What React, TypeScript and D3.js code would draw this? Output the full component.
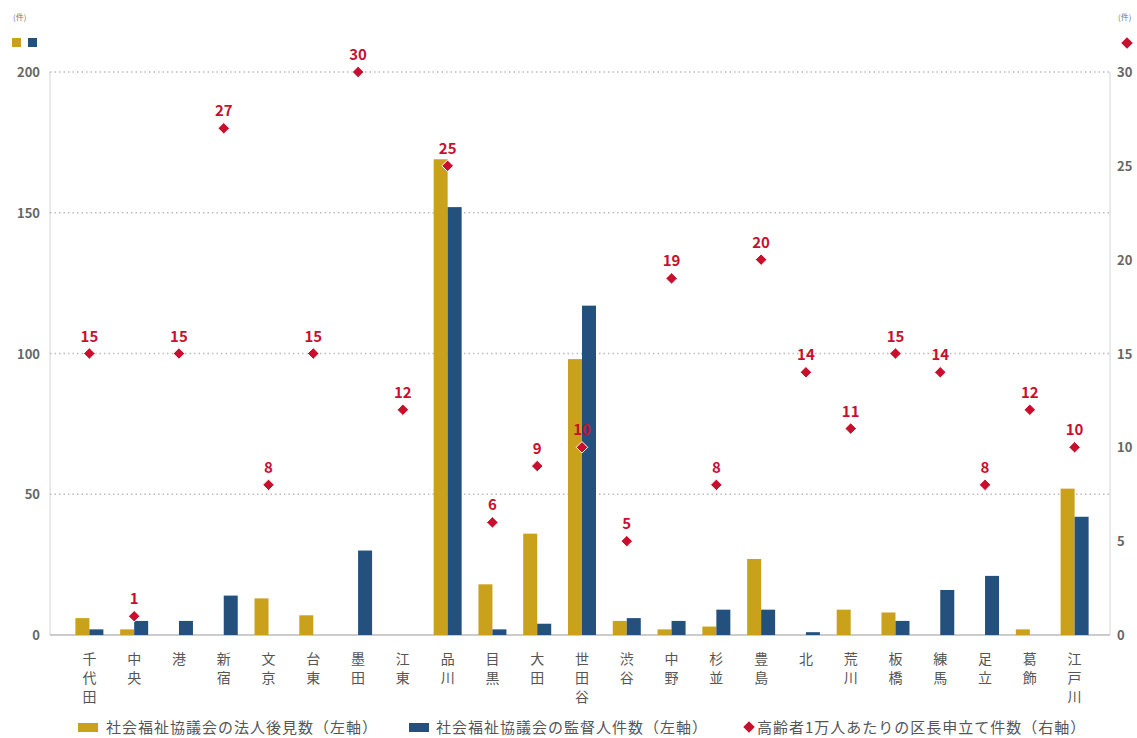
import React, { useEffect, useRef } from 'react';
import * as d3 from 'd3';

const wards = ['千代田', '中央', '港', '新宿', '文京', '台東', '墨田', '江東', '品川', '目黒', '大田', '世田谷', '渋谷', '中野', '杉並', '豊島', '北', '荒川', '板橋', '練馬', '足立', '葛飾', '江戸川'];
const guardianCounts = [6, 2, 0, 0, 13, 7, 0, 0, 169, 18, 36, 98, 5, 2, 3, 27, 0, 9, 8, 0, 0, 2, 52];
const supervisorCounts = [2, 5, 5, 14, 0, 0, 30, 0, 152, 2, 4, 117, 6, 5, 9, 9, 1, 0, 5, 16, 21, 0, 42];
const petitionsPer10k = [15, 1, 15, 27, 8, 15, 30, 12, 25, 6, 9, 10, 5, 19, 8, 20, 14, 11, 15, 14, 8, 12, 10];
const leftTicks = [0, 50, 100, 150, 200];
const rightTicks = [0, 5, 10, 15, 20, 25, 30];
const legendLabels = ['社会福祉協議会の法人後見数（左軸）', '社会福祉協議会の監督人件数（左軸）', '高齢者1万人あたりの区長申立て件数（右軸）'];

const GOLD = '#c9a11b';
const BLUE = '#24507e';
const RED = '#c8102e';
const FONT = '"Noto Sans CJK JP", "Noto Sans", sans-serif';

const diamond = d3.symbol().type(d3.symbolDiamond2).size(85);

const App = () => {
    const ref = useRef<SVGSVGElement>(null);

    useEffect(() => {
        const svg = d3.select(ref.current);
        svg.selectAll('*').remove();

        const x = d3.scaleBand().domain(wards).range([67, 1097]);
        const yL = d3.scaleLinear().domain([0, 200]).range([635, 72]);
        const yR = d3.scaleLinear().domain([0, 30]).range([635, 72]);
        const bw = 14;
        const cx = (w: string) => x(w)! + x.bandwidth() / 2;

        // side axis lines
        [50, 1110].forEach(ax => {
            svg.append('line')
                .attr('x1', ax).attr('x2', ax)
                .attr('y1', 72).attr('y2', 635)
                .attr('stroke', '#d4d4d4').attr('stroke-width', 1);
        });

        // grid
        svg.selectAll('.grid')
            .data(leftTicks.filter(d => d > 0))
            .enter()
            .append('line')
            .attr('x1', 50)
            .attr('x2', 1110)
            .attr('y1', d => yL(d))
            .attr('y2', d => yL(d))
            .attr('stroke', '#bbb')
            .attr('stroke-width', 1.5)
            .attr('stroke-dasharray', '1.5,3');

        svg.append('line')
            .attr('x1', 50).attr('x2', 1110)
            .attr('y1', yL(0)).attr('y2', yL(0))
            .attr('stroke', '#bbb').attr('stroke-width', 1.5);

        svg.selectAll('.lt')
            .data(leftTicks)
            .enter()
            .append('text')
            .attr('x', 40)
            .attr('y', d => yL(d) + 5)
            .attr('text-anchor', 'end')
            .attr('font-size', 13)
            .attr('font-weight', 'bold')
            .attr('fill', '#666')
            .attr('font-family', FONT)
            .text(d => d);

        svg.selectAll('.rt')
            .data(rightTicks)
            .enter()
            .append('text')
            .attr('x', 1117)
            .attr('y', d => yR(d) + 5)
            .attr('font-size', 13)
            .attr('font-weight', 'bold')
            .attr('fill', '#666')
            .attr('font-family', FONT)
            .text(d => d);

        // bars
        svg.selectAll('.gbar')
            .data(guardianCounts)
            .enter()
            .append('rect')
            .attr('x', (d, i) => cx(wards[i]) - bw)
            .attr('y', d => yL(d))
            .attr('width', bw)
            .attr('height', d => yL(0) - yL(d))
            .attr('fill', GOLD);

        svg.selectAll('.bbar')
            .data(supervisorCounts)
            .enter()
            .append('rect')
            .attr('x', (d, i) => cx(wards[i]))
            .attr('y', d => yL(d))
            .attr('width', bw)
            .attr('height', d => yL(0) - yL(d))
            .attr('fill', BLUE);

        // diamonds
        svg.selectAll('.dm')
            .data(petitionsPer10k)
            .enter()
            .append('path')
            .attr('d', diamond)
            .attr('transform', (d, i) => `translate(${cx(wards[i])},${yR(d)})`)
            .attr('fill', RED)
            .attr('stroke', '#fff')
            .attr('stroke-width', 1);

        svg.selectAll('.dl')
            .data(petitionsPer10k)
            .enter()
            .append('text')
            .attr('x', (d, i) => cx(wards[i]))
            .attr('y', d => yR(d) - 12)
            .attr('text-anchor', 'middle')
            .attr('font-size', 15)
            .attr('font-weight', 'bold')
            .attr('fill', RED)
            .attr('font-family', FONT)
            .text(d => d);

        // x labels, vertical
        const xl = svg.selectAll('.xl')
            .data(wards)
            .enter()
            .append('text')
            .attr('text-anchor', 'middle')
            .attr('font-size', 14)
            .attr('fill', '#555')
            .attr('font-family', FONT);
        xl.selectAll('tspan')
            .data(d => Array.from(d).map(c => ({ c, w: d })))
            .enter()
            .append('tspan')
            .attr('x', d => cx(d.w))
            .attr('y', (d, i) => 664 + i * 19)
            .text(d => d.c);

        // units + mini legends
        svg.append('text').attr('x', 13).attr('y', 20).attr('font-size', 8).attr('fill', '#777').attr('font-family', FONT).text('(件)');
        svg.append('rect').attr('x', 12).attr('y', 38).attr('width', 9).attr('height', 9).attr('fill', GOLD);
        svg.append('rect').attr('x', 28).attr('y', 38).attr('width', 9).attr('height', 9).attr('fill', BLUE);
        svg.append('text').attr('x', 1118).attr('y', 20).attr('font-size', 8).attr('fill', '#777').attr('font-family', FONT).text('(件)');
        svg.append('path').attr('d', diamond).attr('transform', 'translate(1127,43)').attr('fill', RED);

        // legend
        const lg = [
            { x: 78, tx: 106, kind: 'rect', color: GOLD },
            { x: 409, tx: 436, kind: 'rect', color: BLUE },
            { x: 749, tx: 757, kind: 'diamond', color: RED },
        ];
        lg.forEach((l, i) => {
            if (l.kind === 'rect') {
                svg.append('rect').attr('x', l.x).attr('y', 723).attr('width', 20).attr('height', 9).attr('fill', l.color);
            } else {
                svg.append('path').attr('d', diamond).attr('transform', `translate(${l.x},727)`).attr('fill', l.color);
            }
            svg.append('text')
                .attr('x', l.tx)
                .attr('y', 733)
                .attr('font-size', 15)
                .attr('letter-spacing', 1)
                .attr('fill', '#555')
                .attr('font-family', FONT)
                .text(legendLabels[i]);
        });
    }, []);

    return (
        <svg ref={ref} width={1137} height={738} style={{ position: 'absolute', left: 0, top: 0, background: '#fff' }}></svg>
    );
};

export default App;
